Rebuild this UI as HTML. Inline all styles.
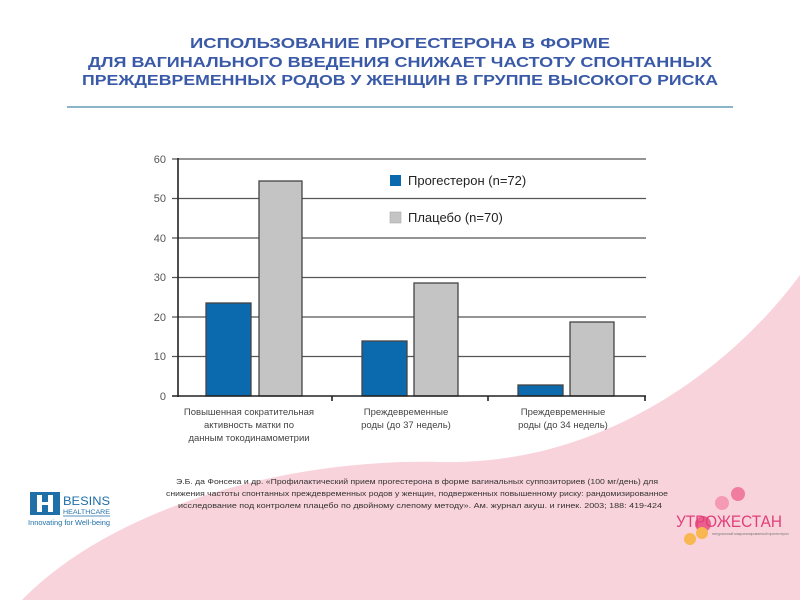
<!DOCTYPE html>
<html><head><meta charset="utf-8"><style>
html,body{margin:0;padding:0;background:#fff;}
svg{display:block;font-family:"Liberation Sans","DejaVu Sans",sans-serif;}
</style></head><body>
<svg width="800" height="600" viewBox="0 0 800 600" xmlns="http://www.w3.org/2000/svg">
<rect width="800" height="600" fill="#fff"/>
<path d="M22,600 C110,510 280,458 440,462 C600,466 730,370 800,275 L800,600 Z" fill="#f9d3dc"/>
<g fill="#3a5aa8" font-weight="bold" font-size="15" text-anchor="middle">
<text x="400" y="48" textLength="420" lengthAdjust="spacingAndGlyphs">ИСПОЛЬЗОВАНИЕ ПРОГЕСТЕРОНА В ФОРМЕ</text>
<text x="400" y="67" textLength="624" lengthAdjust="spacingAndGlyphs">ДЛЯ ВАГИНАЛЬНОГО ВВЕДЕНИЯ СНИЖАЕТ ЧАСТОТУ СПОНТАННЫХ</text>
<text x="400" y="85" textLength="636" lengthAdjust="spacingAndGlyphs">ПРЕЖДЕВРЕМЕННЫХ РОДОВ У ЖЕНЩИН В ГРУППЕ ВЫСОКОГО РИСКА</text>
</g>
<line x1="67" y1="107" x2="733" y2="107" stroke="#8ab4c8" stroke-width="2"/>
<g stroke="#555" stroke-width="1.3">
<line x1="172" y1="159" x2="646" y2="159"/>
<line x1="172" y1="198.5" x2="646" y2="198.5"/>
<line x1="172" y1="238" x2="646" y2="238"/>
<line x1="172" y1="277.5" x2="646" y2="277.5"/>
<line x1="172" y1="317" x2="646" y2="317"/>
<line x1="172" y1="356.5" x2="646" y2="356.5"/>
</g>
<g stroke="#444" stroke-width="1.3">
<rect x="206" y="303" width="45" height="93" fill="#0a6aad"/>
<rect x="259" y="181" width="43" height="215" fill="#c4c4c4"/>
<rect x="362" y="341" width="45" height="55" fill="#0a6aad"/>
<rect x="414" y="283" width="44" height="113" fill="#c4c4c4"/>
<rect x="518" y="385" width="45" height="11" fill="#0a6aad"/>
<rect x="570" y="322" width="44" height="74" fill="#c4c4c4"/>
</g>
<g stroke="#222" stroke-width="1.6">
<line x1="178" y1="158" x2="178" y2="397"/>
<line x1="172" y1="396" x2="646" y2="396"/>
<line x1="332" y1="396" x2="332" y2="401"/>
<line x1="488" y1="396" x2="488" y2="401"/>
<line x1="645" y1="396" x2="645" y2="401"/>
</g>
<g fill="#555" font-size="11" text-anchor="end">
<text x="166" y="163">60</text><text x="166" y="202">50</text><text x="166" y="242">40</text>
<text x="166" y="281">30</text><text x="166" y="321">20</text><text x="166" y="360">10</text><text x="166" y="400">0</text>
</g>
<rect x="390" y="175" width="11" height="11" fill="#0a6aad"/>
<rect x="390" y="212" width="11" height="11" fill="#c4c4c4" stroke="#aaa" stroke-width="0.6"/>
<g fill="#222" font-size="13">
<text x="408" y="185">Прогестерон (n=72)</text>
<text x="408" y="222">Плацебо (n=70)</text>
</g>
<g fill="#444" font-size="9.5" text-anchor="middle">
<text x="249" y="415">Повышенная сократительная</text>
<text x="249" y="428">активность матки по</text>
<text x="249" y="441">данным токодинамометрии</text>
<text x="406" y="415">Преждевременные</text>
<text x="406" y="428">роды (до 37 недель)</text>
<text x="563" y="415">Преждевременные</text>
<text x="563" y="428">роды  (до 34 недель)</text>
</g>
<g fill="#333" font-size="7.5" text-anchor="middle">
<text x="417" y="484" textLength="482" lengthAdjust="spacingAndGlyphs">Э.Б. да Фонсека и др. «Профилактический прием прогестерона в форме вагинальных суппозиториев (100 мг/день) для</text>
<text x="417" y="496" textLength="502" lengthAdjust="spacingAndGlyphs">снижения частоты спонтанных преждевременных родов у женщин, подверженных повышенному риску: рандомизированное</text>
<text x="420" y="508" textLength="484" lengthAdjust="spacingAndGlyphs">исследование под контролем плацебо по двойному слепому методу». Ам. журнал  акуш. и гинек. 2003; 188: 419-424</text>
</g>
<rect x="30" y="492" width="30" height="23" fill="#1f6fa8"/>
<rect x="37" y="495" width="5" height="17" fill="#fff"/>
<rect x="48" y="495" width="5" height="17" fill="#fff"/>
<rect x="42" y="502" width="6" height="3" fill="#fff"/>
<text x="63" y="505" font-size="12" fill="#1f6fa8" textLength="47" lengthAdjust="spacingAndGlyphs">BESINS</text>
<text x="63" y="514" font-size="6.5" fill="#1f6fa8" textLength="47" lengthAdjust="spacingAndGlyphs">HEALTHCARE</text>
<line x1="63" y1="516" x2="110" y2="516" stroke="#1f6fa8" stroke-width="0.8"/>
<text x="28" y="525" font-size="7" fill="#1f6fa8" textLength="82" lengthAdjust="spacingAndGlyphs">Innovating for Well-being</text>
<circle cx="738" cy="494" r="7" fill="#f07ca0"/>
<circle cx="722" cy="503" r="7" fill="#f59ab5"/>
<circle cx="703" cy="524" r="8" fill="#eb5f8e"/>
<circle cx="702" cy="533" r="6" fill="#f8b750"/>
<circle cx="690" cy="539" r="6" fill="#f8b750"/>
<text x="676" y="527" font-size="17" fill="#e0407a" textLength="106" lengthAdjust="spacingAndGlyphs">УТРОЖЕСТАН</text>
<text x="712" y="535" font-size="3.5" fill="#777">натуральный микронизированный прогестерон</text>
</svg>
</body></html>
